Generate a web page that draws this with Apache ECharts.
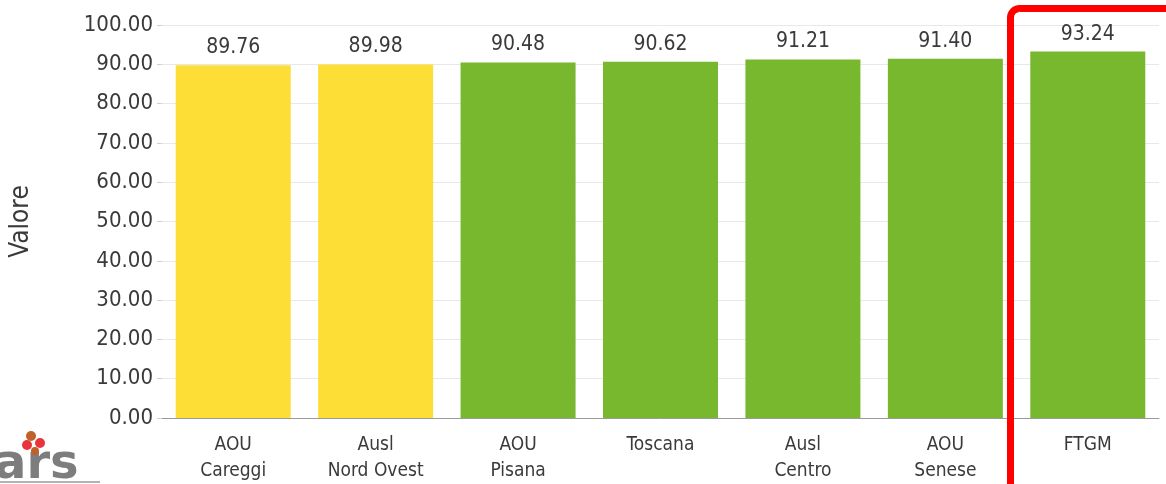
<!DOCTYPE html>
<html>
<head>
<meta charset="utf-8">
<script src="https://cdn.jsdelivr.net/npm/echarts@6/dist/echarts.min.js"></script>
<style>
  html, body { margin: 0; padding: 0; background: #fff; }
  #chart { width: 1166px; height: 484px; }
</style>
</head>
<body>
<div id="chart"></div>
<script>
var categories = ['AOU\nCareggi', 'Ausl\nNord Ovest', 'AOU\nPisana', 'Toscana', 'Ausl\nCentro', 'AOU\nSenese', 'FTGM'];
var values = [89.76, 89.98, 90.48, 90.62, 91.21, 91.40, 93.24];
var threshold = 90;

var FONT = '"DejaVu Sans Condensed", "Liberation Sans Narrow", sans-serif';

var myChart = echarts.init(document.getElementById('chart'));

var option = {
    animation: false,
    grid: { left: 161, right: 7, top: 25, bottom: 64 },
    xAxis: {
        type: 'category',
        data: categories,
        axisLine: { lineStyle: { color: '#9a9a9a', width: 1 } },
        axisTick: { show: false },
        axisLabel: { color: '#3a3a3a', fontFamily: FONT, fontSize: 19, lineHeight: 26, margin: 14 }
    },
    yAxis: {
        type: 'value',
        min: 0, max: 100, interval: 10,
        name: 'Valore',
        nameLocation: 'middle',
        nameGap: 128,
        nameTextStyle: { color: '#3a3a3a', fontFamily: FONT, fontSize: 26 },
        axisLine: { show: false },
        axisTick: { show: true, length: 5, lineStyle: { color: '#cfcfcf' } },
        axisLabel: {
            color: '#3a3a3a', fontFamily: FONT, fontSize: 22, margin: 9,
            formatter: function (v) { return v.toFixed(2); }
        },
        splitLine: { lineStyle: { color: '#e8e8e8' } }
    },
    series: [{
        type: 'bar',
        data: values,
        barWidth: 115,
        itemStyle: {
            color: function (p) { return p.value < threshold ? '#FCDE36' : '#77B82F'; }
        },
        label: {
            show: true, position: 'top', distance: 7,
            color: '#3a3a3a', fontFamily: FONT, fontSize: 21,
            formatter: function (p) { return p.value.toFixed(2); }
        }
    }],
    graphic: [
        {
            type: 'rect', z: 100,
            shape: { x: 1010.5, y: 8.5, width: 300, height: 600, r: 9 },
            style: { fill: 'none', stroke: '#FF0000', lineWidth: 7 }
        },
        {
            type: 'group', x: 0, y: 430, z: 100,
            children: [
                { type: 'text', x: -6, y: 12, style: { text: 'ars', fill: '#7d7d7d', font: 'bold 48px "DejaVu Sans", sans-serif' } },
                { type: 'circle', shape: { cx: 31, cy: 6, r: 5 }, style: { fill: '#C0602A' } },
                { type: 'circle', shape: { cx: 40, cy: 13, r: 5 }, style: { fill: '#E8343A' } },
                { type: 'circle', shape: { cx: 27, cy: 15, r: 5 }, style: { fill: '#E8343A' } },
                { type: 'circle', shape: { cx: 35, cy: 21, r: 4 }, style: { fill: '#C0602A' } },
                { type: 'line', shape: { x1: 0, y1: 52, x2: 100, y2: 52 }, style: { stroke: '#9a9a9a', lineWidth: 1.5 } }
            ]
        }
    ]
};

myChart.setOption(option);
</script>
</body>
</html>
